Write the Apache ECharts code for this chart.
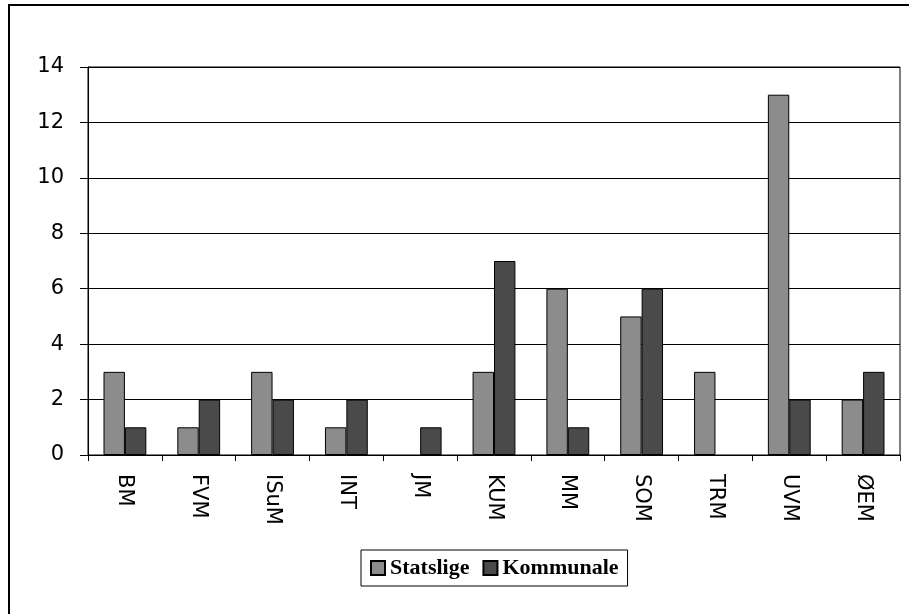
<!DOCTYPE html>
<html>
<head>
<meta charset="utf-8">
<script src="https://cdn.jsdelivr.net/npm/echarts@6/dist/echarts.min.js"></script>
<style>
html,body{margin:0;padding:0;background:#fff;}
#chart{width:909px;height:614px;}
</style>
</head>
<body>
<div id="chart"></div>
<script>
const categories = ['BM','FVM','ISuM','INT','JM','KUM','MM','SOM','TRM','UVM','ØEM'];
const statslige = [3,1,3,1,0,3,6,5,3,13,2];
const kommunale = [1,2,2,2,1,7,1,6,0,2,3];
const seriesNames = ['Statslige','Kommunale'];
const yTicks = {min:0, max:14, interval:2};

// zero-height bars are not drawn in the reference
const toBars = arr => arr.map(v => v === 0 ? '-' : v);

const chart = echarts.init(document.getElementById('chart'), null, {renderer:'canvas'});
const axisFont = 'DejaVu Sans';
chart.setOption({
  backgroundColor:'#ffffff',
  animation:false,
  graphic:[
    {type:'line', shape:{x1:8, y1:5, x2:909, y2:5}, style:{stroke:'#000', lineWidth:2}},
    {type:'line', shape:{x1:9, y1:4, x2:9, y2:614}, style:{stroke:'#000', lineWidth:2}}
  ],
  grid:{left:88, top:67, right:9, bottom:159, show:true, borderColor:'#000', borderWidth:1, backgroundColor:'transparent'},
  legend:{
    left:361, top:550,
    data:seriesNames,
    orient:'horizontal',
    itemWidth:14, itemHeight:14, itemGap:13,
    padding:[7,9,7,9],
    borderColor:'#000', borderWidth:1,
    icon:'rect',
    textStyle:{fontFamily:'Liberation Serif', fontWeight:'bold', fontSize:22, color:'#000'}
  },
  xAxis:{
    type:'category',
    data:categories,
    axisLine:{show:true, lineStyle:{color:'#000', width:1}},
    axisTick:{show:true, inside:false, length:6, lineStyle:{color:'#000'}},
    axisLabel:{rotate:-90, margin:19, fontFamily:axisFont, fontSize:21, color:'#000'},
    splitLine:{show:false}
  },
  yAxis:{
    type:'value',
    min:yTicks.min, max:yTicks.max, interval:yTicks.interval,
    axisLine:{show:true, lineStyle:{color:'#000', width:1}},
    axisTick:{show:true, length:8, lineStyle:{color:'#000'}},
    axisLabel:{margin:24, fontFamily:axisFont, fontSize:21, color:'#000'},
    splitLine:{show:true, lineStyle:{color:'#000', width:1}}
  },
  series:[
    {name:seriesNames[0], type:'bar', data:toBars(statslige), barGap:'0%', barCategoryGap:'42%',
     itemStyle:{color:'#8c8c8c', borderColor:'#000', borderWidth:1}},
    {name:seriesNames[1], type:'bar', data:toBars(kommunale), barGap:'0%', barCategoryGap:'42%',
     itemStyle:{color:'#4a4a4a', borderColor:'#000', borderWidth:1}}
  ]
});
</script>
</body>
</html>
